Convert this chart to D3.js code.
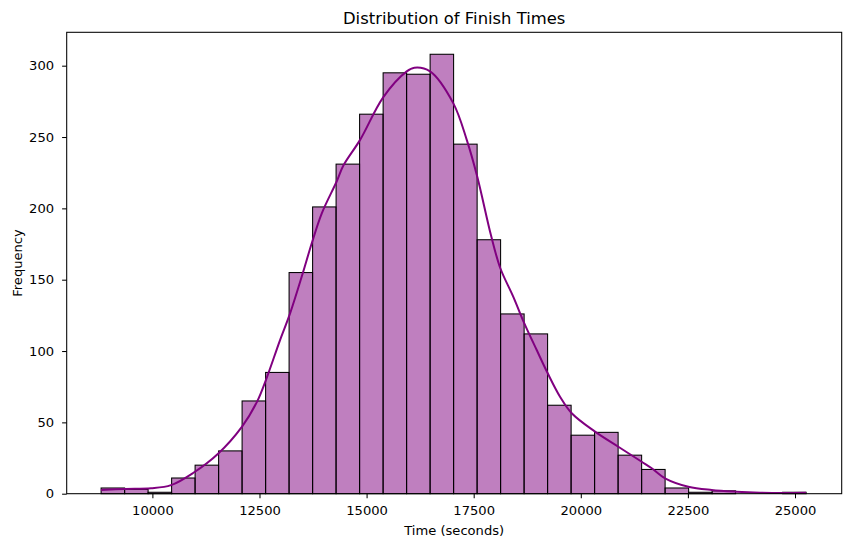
<html>
<head>
    <meta charset="utf-8">
    <title>Distribution of Finish Times</title>
    <script src="https://cdn.jsdelivr.net/npm/d3@7"></script>
    <style>
        body { margin: 0; background: #fff; }
        text { font-family: "DejaVu Sans", sans-serif; fill: #000; }
    </style>
</head>
<body>
<svg id="chart"></svg>
<script>
    // histogram bins (seconds) and counts per bin
    const binEdges = [8803, 9352, 9900, 10449, 10997, 11546, 12094, 12643, 13191, 13740, 14288,
        14837, 15386, 15934, 16483, 17031, 17580, 18128, 18677, 19225, 19774,
        20322, 20871, 21420, 21968, 22517, 23065, 23614, 24162, 24711, 25259];
    const counts = [4, 3, 1, 11, 20, 30, 65, 85, 155, 201,
        231, 266, 295, 294, 308, 245, 178, 126, 112, 62,
        41, 43, 27, 17, 4, 1, 2, 0, 0, 1];

    // density curve (already scaled to counts)
    const kdeTime = [8803, 9363, 9970, 10436, 10950, 11533, 12093, 12444, 12654, 12980,
        13214, 13510, 13720, 13954, 14304, 14458, 14848, 15391, 15937, 16115,
        16481, 17025, 17338, 17585, 17905, 18122, 18425, 18682, 18971, 19228,
        19515, 19788, 20332, 20876, 21422, 21656, 21966, 22510, 23056, 23623,
        24183, 24720, 25257];
    const kdeCount = [2.6, 3.3, 3.8, 6, 14.5, 28, 47, 64.5, 80, 107.7,
        126.4, 154.5, 175.5, 196.5, 219, 230, 248, 278, 296, 298.6,
        296, 273.6, 248, 222, 181, 158, 138, 119.4, 100.7, 84.4,
        68, 56.4, 43.5, 32.9, 22.4, 17.8, 10.8, 4.9, 2.6, 1.4,
        0.7, 0.5, 0.7];

    const xTicks = [10000, 12500, 15000, 17500, 20000, 22500, 25000];
    const yTicks = [0, 50, 100, 150, 200, 250, 300];

    const width = 850, height = 547;
    const plotLeft = 66.7, plotRight = 841.7, plotTop = 32.3, plotBottom = 493.7;

    const svg = d3.select('#chart')
        .attr('width', width)
        .attr('height', height);

    const x = d3.scaleLinear().domain([8000, 26090]).range([plotLeft, plotRight]);
    const y = d3.scaleLinear().domain([0, 323.4]).range([plotBottom, plotTop]);

    // bars
    svg.append('g')
        .selectAll('rect')
        .data(counts)
        .join('rect')
        .attr('x', (d, i) => x(binEdges[i]))
        .attr('y', d => y(d))
        .attr('width', (d, i) => x(binEdges[i + 1]) - x(binEdges[i]))
        .attr('height', d => y(0) - y(d))
        .attr('fill', 'rgba(128,0,128,0.5)')
        .attr('stroke', '#000')
        .attr('stroke-width', 1.05);

    // kde line
    const line = d3.line()
        .x((d, i) => x(kdeTime[i]))
        .y(d => y(d))
        .curve(d3.curveCatmullRom.alpha(0.5));
    svg.append('path')
        .attr('d', line(kdeCount))
        .attr('fill', 'none')
        .attr('stroke', 'purple')
        .attr('stroke-width', 2);

    // axes
    const xAxis = d3.axisBottom(x).tickValues(xTicks).tickFormat(d3.format('d'))
        .tickSize(4.6).tickPadding(7).tickSizeOuter(0);
    svg.append('g')
        .attr('transform', `translate(0, ${plotBottom})`)
        .call(xAxis);
    const yAxis = d3.axisLeft(y).tickValues(yTicks).tickFormat(d3.format('d'))
        .tickSize(4.6).tickPadding(8).tickSizeOuter(0);
    svg.append('g')
        .attr('transform', `translate(${plotLeft}, 0)`)
        .call(yAxis);
    svg.selectAll('.domain').remove();
    svg.selectAll('.tick line').attr('stroke', '#000').attr('stroke-width', 1.05);
    svg.selectAll('.tick text')
        .attr('font-family', '"DejaVu Sans", sans-serif')
        .attr('font-size', 13.1)
        .attr('fill', '#000');

    // frame
    svg.append('rect')
        .attr('x', plotLeft)
        .attr('y', plotTop)
        .attr('width', plotRight - plotLeft)
        .attr('height', plotBottom - plotTop)
        .attr('fill', 'none')
        .attr('stroke', '#000')
        .attr('stroke-width', 1.05);

    // labels
    svg.append('text')
        .attr('x', (plotLeft + plotRight) / 2)
        .attr('y', 24)
        .attr('text-anchor', 'middle')
        .attr('font-size', 16.4)
        .text('Distribution of Finish Times');
    svg.append('text')
        .attr('x', (plotLeft + plotRight) / 2)
        .attr('y', 534.5)
        .attr('text-anchor', 'middle')
        .attr('font-size', 13.1)
        .text('Time (seconds)');
    svg.append('text')
        .attr('transform', `translate(22, ${(plotTop + plotBottom) / 2}) rotate(-90)`)
        .attr('text-anchor', 'middle')
        .attr('font-size', 13.1)
        .text('Frequency');
</script>
</body>
</html>
